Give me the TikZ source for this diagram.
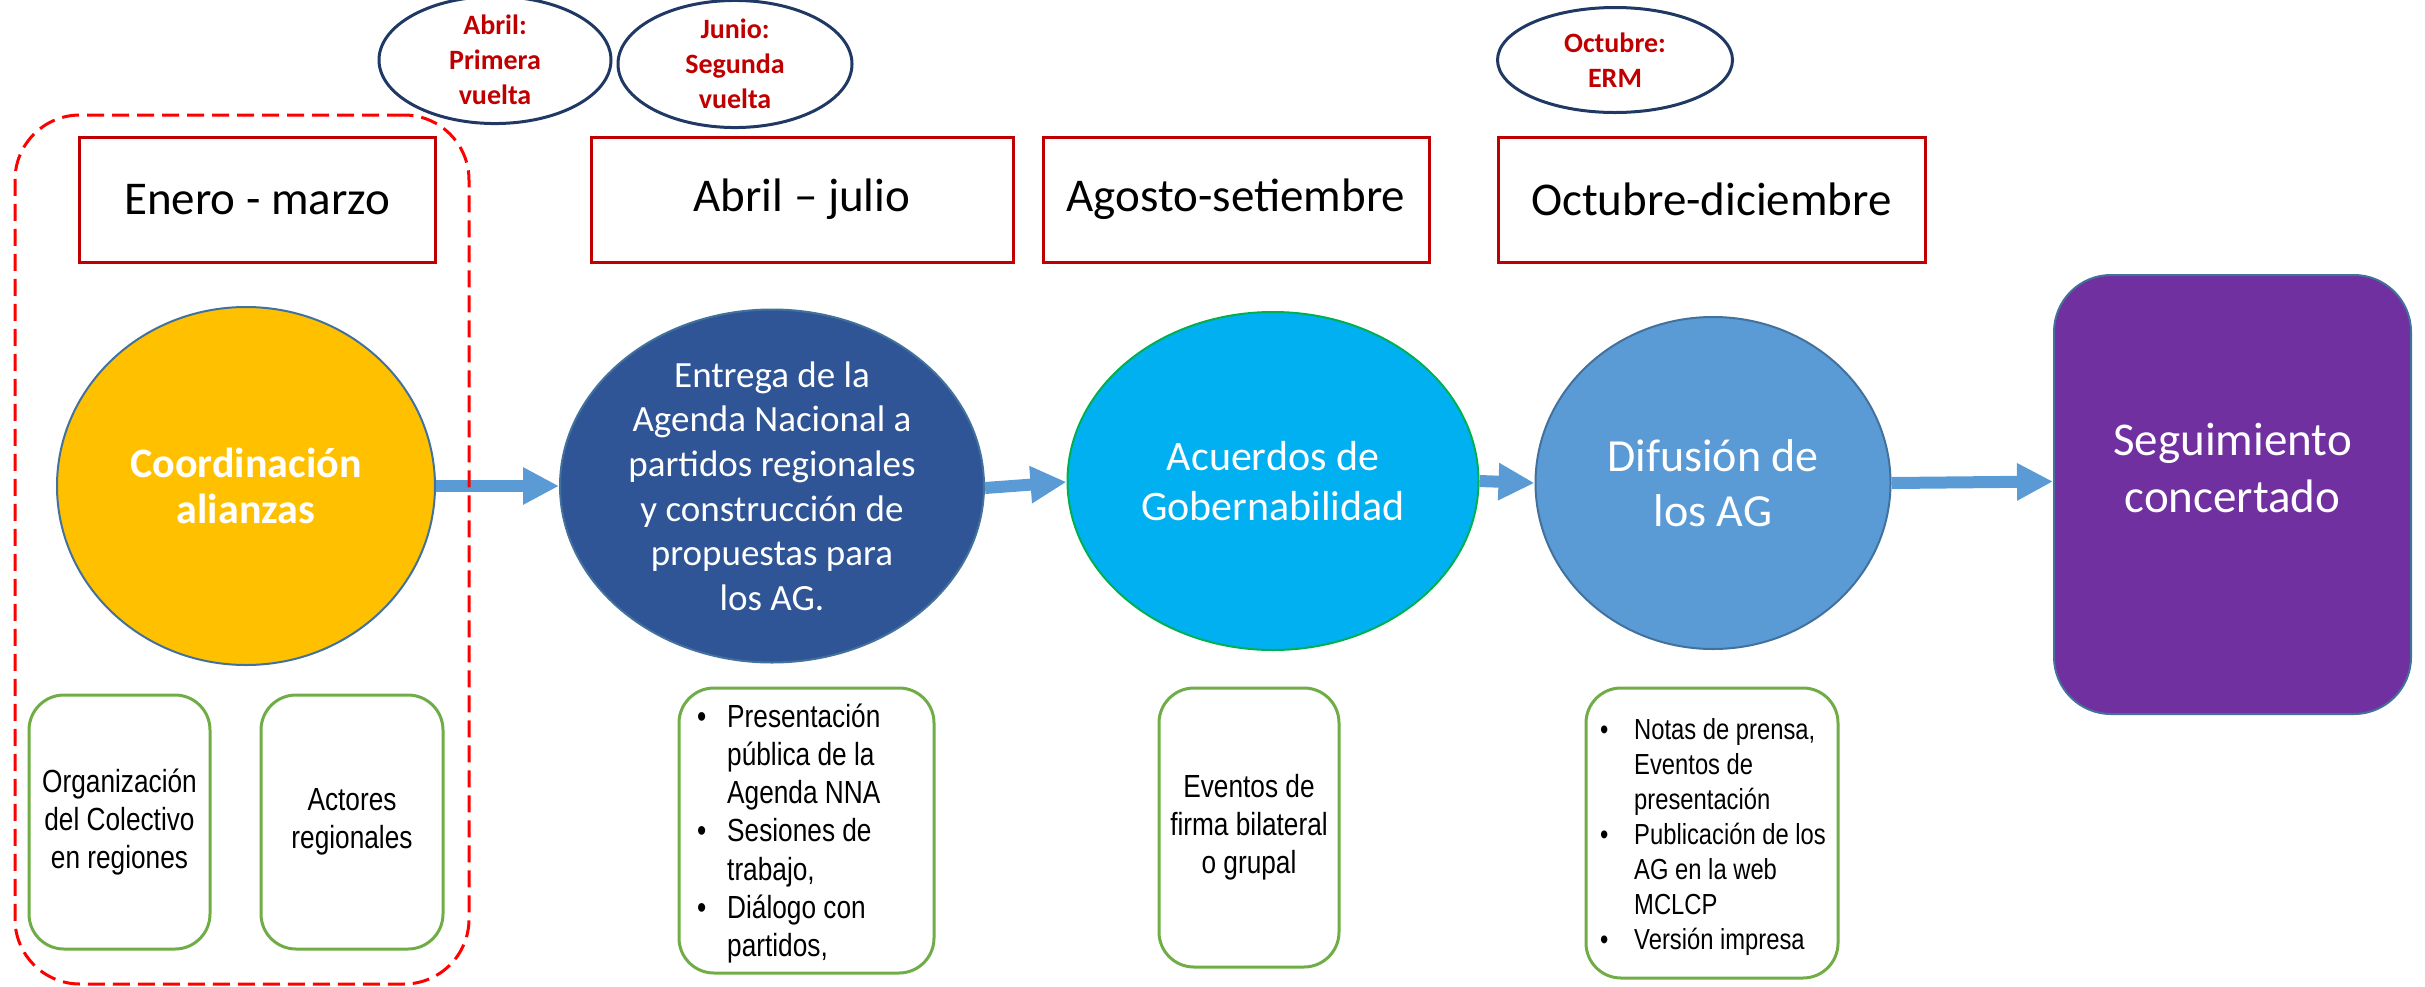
\documentclass[tikz,border=0pt]{standalone}
\usepackage{fontspec}
\setmainfont{Carlito}
\newfontfamily\narrowfont[FakeStretch=0.82]{Liberation Sans}
\usetikzlibrary{shapes.geometric,arrows.meta}
\definecolor{hdrred}{HTML}{C00000}
\definecolor{navy}{HTML}{1F3864}
\definecolor{outl}{HTML}{41719C}
\definecolor{yel}{HTML}{FFC000}
\definecolor{dblue}{HTML}{2F5597}
\definecolor{cyanb}{HTML}{00B0F0}
\definecolor{greenb}{HTML}{00B050}
\definecolor{lblue}{HTML}{5B9BD5}
\definecolor{purp}{HTML}{7030A0}
\definecolor{gbox}{HTML}{70AD47}
\begin{document}
\begin{tikzpicture}[x={(1pt,0pt)},y={(0pt,-1pt)},
  month/.style={ellipse, draw=navy, line width=3pt, inner sep=0pt, align=center,
    text=hdrred, font=\bfseries\fontsize{28}{35}\selectfont},
  hdr/.style={rectangle, draw=hdrred, line width=3pt, inner sep=0pt,
    minimum height=125pt, font=\fontsize{47}{56}\selectfont},
  stage/.style={ellipse, draw=outl, line width=2pt, inner sep=0pt, align=center, text=white},
  gb/.style={rectangle, rounded corners=35pt, draw=gbox, line width=3pt, inner sep=0pt,
    align=center, font=\narrowfont\fontsize{32}{38}\selectfont},
  arr/.style={draw=lblue, line width=12pt, -{Triangle[width=35pt,length=36pt]}}
]
\useasboundingbox (0,0) rectangle (2425,986);

% month ellipses
\node[month, minimum width=232pt, minimum height=111pt] (e1) at (495,60) {Abril:\\Primera\\vuelta};
\node[month, minimum width=234pt, minimum height=104pt] (e2) at (735,64) {Junio:\\Segunda\\vuelta};
\node[month, minimum width=235pt, minimum height=105pt] (e3) at (1615,60) {Octubre:\\ERM};

% period headers
\node[hdr, minimum width=356pt] (b1) at (257,199.5) {Enero - marzo};
\node[hdr, minimum width=422pt] (b2) at (802,199.5) {Abril -- julio};
\node[hdr, minimum width=386pt] (b3) at (1236,199.5) {Agosto-setiembre};
\node[hdr, minimum width=427pt] (b4) at (1711.5,199.5) {Octubre-diciembre};

% stages
\node[stage, fill=yel, minimum width=378pt, minimum height=358pt,
  font=\bfseries\fontsize{42}{46}\selectfont] (c1) at (246,486) {Coordinación\\alianzas};
\node[stage, fill=dblue, minimum width=424pt, minimum height=353pt,
  font=\fontsize{37}{44.6}\selectfont] (c2) at (772,486)
  {Entrega de la\\Agenda Nacional a\\partidos regionales\\y construcción de\\propuestas para\\los AG.};
\node[stage, fill=cyanb, draw=greenb, minimum width=411pt, minimum height=338pt,
  font=\fontsize{42}{50}\selectfont] (c3) at (1273,481) {Acuerdos de\\Gobernabilidad};
\node[stage, fill=lblue, minimum width=355pt, minimum height=332pt,
  font=\fontsize{46}{55}\selectfont] (c4) at (1713,483) {Difusión de\\los AG};
\node[rectangle, rounded corners=57pt, fill=purp, draw=outl, line width=2pt,
  minimum width=357pt, minimum height=439pt, inner sep=0pt] (p) at (2232.5,494.5) {};
\node[align=center, text=white, inner sep=0pt, font=\fontsize{47}{57}\selectfont]
  (pt) at ([yshift=27pt]p.center) {Seguimiento\\concertado};

% connectors
\draw[arr] (c1.east) -- (c2.west);
\draw[arr] ([yshift=-2pt]c2.east) -- ([yshift=-1pt]c3.west);
\draw[arr] (c3.east) -- (c4.west);
\draw[arr] (c4.east) -- ([yshift=13pt]p.west);

% green boxes
\node[gb, minimum width=181pt, minimum height=254pt] (g1) at (119.5,822) {Organización\\del Colectivo\\en regiones};
\node[gb, minimum width=182pt, minimum height=254pt] (g2) at (352,822) {Actores\\regionales};
\node[gb, minimum width=255pt, minimum height=285pt] (g3) at (806.5,830.5) {};
\node[anchor=base west, inner sep=0pt, font=\narrowfont\fontsize{32}{38.3}\selectfont] (g3t) at (697,727)
  {\begin{tabular}[t]{@{}p{30pt}@{}l@{}}
   \textbullet & Presentación\\ & pública de la\\ & Agenda NNA\\
   \textbullet & Sesiones de\\ & trabajo,\\
   \textbullet & Diálogo con\\ & partidos,
   \end{tabular}};
\node[gb, minimum width=180pt, minimum height=279pt] (g4) at (1249,827.5) {Eventos de\\firma bilateral\\o grupal};
\node[gb, minimum width=252pt, minimum height=290pt] (g5) at (1712,833) {};
\node[anchor=base west, inner sep=0pt, font=\narrowfont\fontsize{29}{35}\selectfont] (g5t) at (1600,739)
  {\begin{tabular}[t]{@{}p{34pt}@{}l@{}}
   \textbullet & Notas de prensa,\\ & Eventos de\\ & presentación\\
   \textbullet & Publicación de los\\ & AG en la web\\ & MCLCP\\
   \textbullet & Versión impresa
   \end{tabular}};

% dashed group frame
\node[rectangle, rounded corners=65pt, draw=red, line width=3pt, dash pattern=on 17pt off 8pt,
  minimum width=454pt, minimum height=869pt, inner sep=0pt] (frame) at (242,549.5) {};
\end{tikzpicture}
\end{document}
